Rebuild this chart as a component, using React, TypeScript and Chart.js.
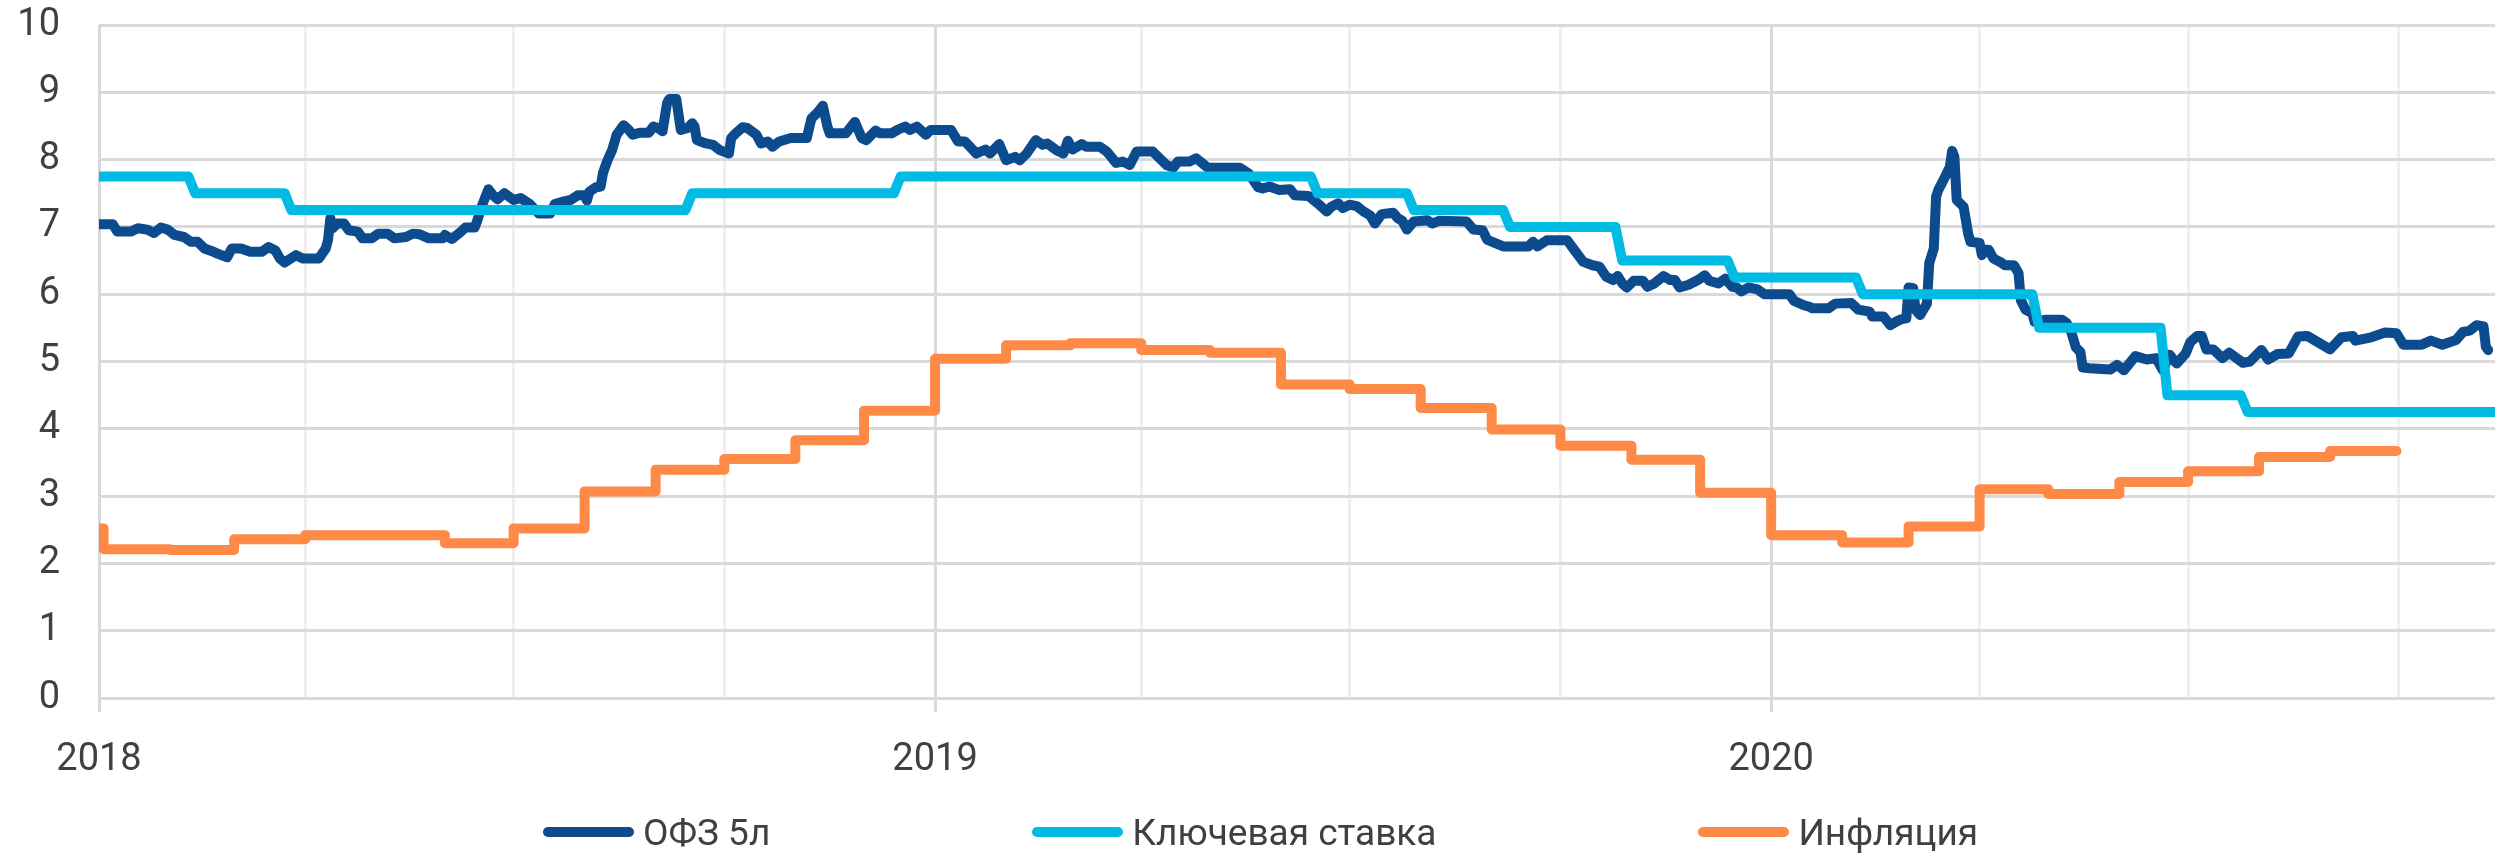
import React, { useEffect, useRef } from 'react';
import { Chart, registerables } from 'chart.js';

Chart.register(...registerables);

const seriesNames = ['ОФЗ 5л', 'Ключевая ставка', 'Инфляция'];
const seriesColors = ['#0c4b8e', '#00bbe4', '#ff8a47'];

const xAxisStart = '2018-01-01';
const xAxisEnd = '2020-11-12';
const quarterTicks = [
  '2018-01-01', '2018-04-01', '2018-07-01', '2018-10-01',
  '2019-01-01', '2019-04-01', '2019-07-01', '2019-10-01',
  '2020-01-01', '2020-04-01', '2020-07-01', '2020-10-01',
];
const yMin = 0;
const yMax = 10;
const yStep = 1;

const ofzDates = [
  '2018-01-01', '2018-01-07', '2018-01-09', '2018-01-15', '2018-01-18', '2018-01-22', '2018-01-25', '2018-01-28', '2018-01-31',
  '2018-02-03', '2018-02-07', '2018-02-10', '2018-02-13', '2018-02-16', '2018-02-20', '2018-02-22', '2018-02-26', '2018-02-28',
  '2018-03-04', '2018-03-08', '2018-03-13', '2018-03-16', '2018-03-19', '2018-03-21', '2018-03-23', '2018-03-28', '2018-03-31',
  '2018-04-07', '2018-04-10', '2018-04-11', '2018-04-12', '2018-04-13', '2018-04-15', '2018-04-18', '2018-04-20', '2018-04-24',
  '2018-04-26', '2018-04-30', '2018-05-03', '2018-05-07', '2018-05-10', '2018-05-15', '2018-05-18', '2018-05-21', '2018-05-25',
  '2018-05-31', '2018-06-01', '2018-06-04', '2018-06-07', '2018-06-10', '2018-06-14', '2018-06-15', '2018-06-17', '2018-06-20',
  '2018-06-22', '2018-06-24', '2018-06-27', '2018-07-01', '2018-07-04', '2018-07-08', '2018-07-12', '2018-07-17', '2018-07-19',
  '2018-07-22', '2018-07-26', '2018-07-29', '2018-08-01', '2018-08-02', '2018-08-03', '2018-08-06', '2018-08-08', '2018-08-09',
  '2018-08-11', '2018-08-13', '2018-08-15', '2018-08-18', '2018-08-20', '2018-08-22', '2018-08-25', '2018-08-29', '2018-08-31',
  '2018-09-02', '2018-09-04', '2018-09-06', '2018-09-07', '2018-09-10', '2018-09-12', '2018-09-15', '2018-09-17', '2018-09-18',
  '2018-09-19', '2018-09-23', '2018-09-26', '2018-09-29', '2018-10-03', '2018-10-04', '2018-10-06', '2018-10-09', '2018-10-11',
  '2018-10-15', '2018-10-17', '2018-10-20', '2018-10-22', '2018-10-25', '2018-10-30', '2018-11-06', '2018-11-08', '2018-11-11',
  '2018-11-13', '2018-11-15', '2018-11-16', '2018-11-23', '2018-11-27', '2018-11-30', '2018-12-02', '2018-12-06', '2018-12-08',
  '2018-12-13', '2018-12-16', '2018-12-19', '2018-12-21', '2018-12-24', '2018-12-28', '2018-12-30', '2019-01-08', '2019-01-11',
  '2019-01-14', '2019-01-19', '2019-01-23', '2019-01-25', '2019-01-29', '2019-02-01', '2019-02-05', '2019-02-07', '2019-02-10',
  '2019-02-14', '2019-02-17', '2019-02-19', '2019-02-23', '2019-02-26', '2019-02-28', '2019-03-02', '2019-03-06', '2019-03-08',
  '2019-03-14', '2019-03-17', '2019-03-21', '2019-03-24', '2019-03-27', '2019-03-30', '2019-04-06', '2019-04-12', '2019-04-15',
  '2019-04-17', '2019-04-22', '2019-04-25', '2019-04-30', '2019-05-14', '2019-05-18', '2019-05-22', '2019-05-24', '2019-05-27',
  '2019-05-31', '2019-06-05', '2019-06-07', '2019-06-13', '2019-06-17', '2019-06-21', '2019-06-23', '2019-06-26', '2019-06-28',
  '2019-07-01', '2019-07-04', '2019-07-07', '2019-07-10', '2019-07-12', '2019-07-15', '2019-07-20', '2019-07-22', '2019-07-24',
  '2019-07-26', '2019-07-29', '2019-08-04', '2019-08-06', '2019-08-09', '2019-08-21', '2019-08-24', '2019-08-28', '2019-08-30',
  '2019-09-01', '2019-09-06', '2019-09-17', '2019-09-19', '2019-09-21', '2019-09-25', '2019-10-04', '2019-10-07', '2019-10-11',
  '2019-10-15', '2019-10-18', '2019-10-21', '2019-10-24', '2019-10-26', '2019-10-28', '2019-10-30', '2019-11-02', '2019-11-06',
  '2019-11-08', '2019-11-11', '2019-11-15', '2019-11-18', '2019-11-20', '2019-11-22', '2019-11-26', '2019-11-30', '2019-12-03',
  '2019-12-05', '2019-12-09', '2019-12-12', '2019-12-15', '2019-12-17', '2019-12-19', '2019-12-22', '2019-12-26', '2019-12-29',
  '2020-01-09', '2020-01-11', '2020-01-15', '2020-01-18', '2020-01-19', '2020-01-26', '2020-01-29', '2020-02-05', '2020-02-08',
  '2020-02-13', '2020-02-14', '2020-02-19', '2020-02-22', '2020-02-25', '2020-02-27', '2020-02-29', '2020-03-01', '2020-03-03',
  '2020-03-04', '2020-03-06', '2020-03-09', '2020-03-10', '2020-03-12', '2020-03-13', '2020-03-14', '2020-03-17', '2020-03-19',
  '2020-03-20', '2020-03-21', '2020-03-22', '2020-03-25', '2020-03-27', '2020-03-28', '2020-04-01', '2020-04-02', '2020-04-03',
  '2020-04-05', '2020-04-07', '2020-04-10', '2020-04-12', '2020-04-16', '2020-04-18', '2020-04-19', '2020-04-21', '2020-04-24',
  '2020-04-25', '2020-04-30', '2020-05-07', '2020-05-09', '2020-05-11', '2020-05-13', '2020-05-15', '2020-05-16', '2020-05-19',
  '2020-05-28', '2020-05-31', '2020-06-03', '2020-06-08', '2020-06-13', '2020-06-17', '2020-06-20', '2020-06-23', '2020-06-26',
  '2020-06-30', '2020-07-02', '2020-07-05', '2020-07-07', '2020-07-09', '2020-07-12', '2020-07-16', '2020-07-19', '2020-07-25',
  '2020-07-28', '2020-08-02', '2020-08-05', '2020-08-09', '2020-08-14', '2020-08-18', '2020-08-22', '2020-08-27', '2020-09-01',
  '2020-09-06', '2020-09-11', '2020-09-12', '2020-09-19', '2020-09-25', '2020-09-30', '2020-10-03', '2020-10-11', '2020-10-15',
  '2020-10-20', '2020-10-26', '2020-10-29', '2020-11-01', '2020-11-04', '2020-11-07', '2020-11-08', '2020-11-09',
];

const ofzValues = [
  7.04, 7.04, 6.93, 6.93, 6.98, 6.96, 6.91, 6.99, 6.96,
  6.88, 6.85, 6.78, 6.78, 6.68, 6.63, 6.60, 6.55, 6.68,
  6.68, 6.63, 6.63, 6.70, 6.65, 6.53, 6.47, 6.58, 6.53,
  6.53, 6.68, 6.81, 7.13, 6.98, 7.05, 7.05, 6.95, 6.93,
  6.83, 6.83, 6.90, 6.90, 6.83, 6.85, 6.90, 6.89, 6.83,
  6.83, 6.88, 6.82, 6.90, 6.99, 6.99, 7.08, 7.30, 7.56,
  7.47, 7.41, 7.50, 7.40, 7.43, 7.34, 7.20, 7.20, 7.34,
  7.37, 7.40, 7.47, 7.47, 7.39, 7.52, 7.59, 7.60, 7.80,
  7.99, 8.14, 8.37, 8.51, 8.45, 8.37, 8.40, 8.40, 8.49,
  8.47, 8.42, 8.84, 8.90, 8.90, 8.44, 8.47, 8.54, 8.49,
  8.29, 8.24, 8.22, 8.14, 8.09, 8.32, 8.39, 8.48, 8.47,
  8.37, 8.24, 8.27, 8.19, 8.27, 8.32, 8.32, 8.61, 8.71,
  8.80, 8.49, 8.39, 8.39, 8.56, 8.32, 8.29, 8.43, 8.39,
  8.39, 8.45, 8.49, 8.44, 8.49, 8.37, 8.44, 8.44, 8.27,
  8.27, 8.09, 8.15, 8.09, 8.23, 7.99, 8.04, 7.99, 8.09,
  8.29, 8.22, 8.24, 8.14, 8.09, 8.28, 8.15, 8.23, 8.19,
  8.19, 8.12, 7.95, 7.97, 7.92, 8.12, 8.12, 7.92, 7.88,
  7.97, 7.97, 8.02, 7.88, 7.88, 7.79, 7.59, 7.57, 7.60,
  7.55, 7.56, 7.47, 7.46, 7.35, 7.23, 7.30, 7.35, 7.28,
  7.33, 7.31, 7.23, 7.17, 7.05, 7.19, 7.21, 7.13, 7.09,
  6.96, 7.08, 7.10, 7.05, 7.09, 7.08, 6.96, 6.95, 6.81,
  6.78, 6.71, 6.71, 6.78, 6.71, 6.80, 6.80, 6.66, 6.48,
  6.43, 6.41, 6.26, 6.21, 6.27, 6.16, 6.10, 6.20, 6.20,
  6.11, 6.16, 6.27, 6.21, 6.21, 6.10, 6.14, 6.21, 6.28,
  6.20, 6.16, 6.23, 6.11, 6.10, 6.04, 6.10, 6.07, 6.00,
  6.00, 5.90, 5.84, 5.81, 5.79, 5.79, 5.86, 5.87, 5.77,
  5.74, 5.67, 5.67, 5.54, 5.60, 5.63, 5.64, 6.10, 6.09,
  5.77, 5.69, 5.86, 6.46, 6.68, 7.45, 7.55, 7.75, 7.89,
  8.13, 8.04, 7.40, 7.30, 6.90, 6.78, 6.76, 6.58, 6.66,
  6.66, 6.53, 6.48, 6.43, 6.43, 6.31, 5.91, 5.77, 5.72,
  5.59, 5.62, 5.62, 5.57, 5.44, 5.21, 5.14, 4.91, 4.90,
  4.88, 4.95, 4.87, 5.08, 5.03, 5.05, 4.87, 5.10, 4.97,
  5.12, 5.29, 5.38, 5.38, 5.18, 5.18, 5.05, 5.13, 4.98,
  5.00, 5.17, 5.03, 5.11, 5.12, 5.37, 5.38, 5.28, 5.18,
  5.36, 5.38, 5.31, 5.36, 5.43, 5.42, 5.25, 5.25, 5.31,
  5.25, 5.32, 5.44, 5.46, 5.54, 5.52, 5.22, 5.17,
];

const keyRateDates = [
  '2018-01-01', '2018-02-09', '2018-02-12', '2018-03-23', '2018-03-26', '2018-09-14', '2018-09-17',
  '2018-12-14', '2018-12-17', '2019-06-14', '2019-06-17', '2019-07-26', '2019-07-29', '2019-09-06',
  '2019-09-09', '2019-10-25', '2019-10-28', '2019-12-13', '2019-12-16', '2020-02-07', '2020-02-10',
  '2020-04-24', '2020-04-27', '2020-06-19', '2020-06-22', '2020-07-24', '2020-07-27', '2020-11-12',
];
const keyRateValues = [
  7.75, 7.75, 7.5, 7.5, 7.25, 7.25, 7.5,
  7.5, 7.75, 7.75, 7.5, 7.5, 7.25, 7.25,
  7.0, 7.0, 6.5, 6.5, 6.25, 6.25, 6.0,
  6.0, 5.5, 5.5, 4.5, 4.5, 4.25, 4.25,
];

const inflationDates = [
  '2018-01-01', '2018-01-03', '2018-02-01', '2018-03-01', '2018-04-01', '2018-05-01', '2018-06-01',
  '2018-07-01', '2018-08-01', '2018-09-01', '2018-10-01', '2018-11-01', '2018-12-01', '2019-01-01',
  '2019-02-01', '2019-03-01', '2019-04-01', '2019-05-01', '2019-06-01', '2019-07-01', '2019-08-01',
  '2019-09-01', '2019-10-01', '2019-11-01', '2019-12-01', '2020-01-01', '2020-02-01', '2020-03-01',
  '2020-04-01', '2020-05-01', '2020-06-01', '2020-07-01', '2020-08-01', '2020-09-01', '2020-09-30',
];
const inflationValues = [
  2.52, 2.21, 2.20, 2.36, 2.42, 2.42, 2.30,
  2.52, 3.07, 3.39, 3.55, 3.83, 4.27, 5.04,
  5.24, 5.27, 5.17, 5.13, 4.66, 4.59, 4.31,
  3.99, 3.75, 3.54, 3.05, 2.42, 2.31, 2.55,
  3.10, 3.03, 3.21, 3.37, 3.58, 3.67, 3.67,
];

const FONT = 'Roboto, "Noto Sans", sans-serif';
const TEXT_COLOR = '#404040';

function isYearStart(v: any): boolean {
  if (typeof v !== 'number') return false;
  const d = new Date(v);
  return d.getUTCMonth() === 0 && d.getUTCDate() === 1;
}

function toPoints(dates: string[], values: number[]) {
  return dates.map((d, i) => ({ x: Date.parse(d), y: values[i] }));
}

export default function App() {
  const canvasRef = useRef<HTMLCanvasElement>(null);

  useEffect(() => {
    const canvas = canvasRef.current;
    if (!canvas) return;
    const chart = new Chart(canvas, {
      type: 'line',
      data: {
        datasets: [
          { label: seriesNames[0], data: toPoints(ofzDates, ofzValues), borderColor: seriesColors[0], backgroundColor: seriesColors[0], order: 3 },
          { label: seriesNames[1], data: toPoints(keyRateDates, keyRateValues), borderColor: seriesColors[1], backgroundColor: seriesColors[1], order: 2 },
          { label: seriesNames[2], data: toPoints(inflationDates, inflationValues), borderColor: seriesColors[2], backgroundColor: seriesColors[2], stepped: true, order: 1 },
        ],
      },
      options: {
        responsive: false,
        animation: false,
        devicePixelRatio: 1,
        events: [],
        layout: { padding: { left: 0, right: 8, top: 25, bottom: 0 } },
        elements: {
          line: { borderWidth: 10, borderJoinStyle: 'round', borderCapStyle: 'round', tension: 0, fill: false },
          point: { radius: 0, hoverRadius: 0 },
        },
        plugins: { legend: { display: false }, tooltip: { enabled: false } },
        scales: {
          x: {
            type: 'linear',
            min: Date.parse(xAxisStart),
            max: Date.parse(xAxisEnd),
            afterBuildTicks: (scale: any) => {
              scale.ticks = quarterTicks.map((d) => ({ value: Date.parse(d) }));
            },
            afterFit: (scale: any) => {
              scale.height = 158;
              scale.paddingLeft = 0;
              scale.paddingRight = 0;
            },
            grid: {
              color: (ctx: any) => (isYearStart(ctx.tick && ctx.tick.value) ? '#d9d9d9' : '#efefef'),
              lineWidth: 3,
              drawTicks: true,
              tickLength: 14,
              tickWidth: 3,
              tickColor: (ctx: any) => (isYearStart(ctx.tick && ctx.tick.value) ? '#d9d9d9' : 'rgba(0,0,0,0)'),
            },
            border: { display: false },
            ticks: {
              autoSkip: false,
              maxRotation: 0,
              minRotation: 0,
              padding: 26,
              color: TEXT_COLOR,
              font: { family: FONT, size: 38 },
              callback: (v: any) => (isYearStart(v) ? String(new Date(v).getUTCFullYear()) : ''),
            },
          },
          y: {
            min: yMin,
            max: yMax,
            afterFit: (scale: any) => {
              scale.width = 99;
              scale.paddingTop = 0;
              scale.paddingBottom = 0;
            },
            grid: { color: '#d9d9d9', lineWidth: 3, drawTicks: false },
            border: { display: false },
            ticks: {
              stepSize: yStep,
              padding: 39,
              color: TEXT_COLOR,
              font: { family: FONT, size: 38 },
            },
          },
        },
      } as any,
    });
    return () => chart.destroy();
  }, []);

  return (
    <div style={{ position: 'absolute', left: 0, top: 0, width: 2503, height: 856, background: '#ffffff' }}>
      <canvas ref={canvasRef} width={2503} height={856} style={{ display: 'block' }} />
      <div
        style={{
          position: 'absolute',
          left: 18,
          right: 0,
          top: 813,
          height: 38,
          display: 'flex',
          justifyContent: 'center',
          alignItems: 'center',
          gap: 262,
          fontFamily: FONT,
          fontSize: 37,
          color: TEXT_COLOR,
          lineHeight: 1,
          whiteSpace: 'nowrap',
        }}
      >
        {seriesNames.map((name, i) => (
          <div key={name} style={{ display: 'flex', alignItems: 'center' }}>
            <span
              style={{
                display: 'inline-block',
                width: 91,
                height: 10,
                borderRadius: 5,
                background: seriesColors[i],
                marginRight: 9,
              }}
            />
            <span>{name}</span>
          </div>
        ))}
      </div>
    </div>
  );
}
